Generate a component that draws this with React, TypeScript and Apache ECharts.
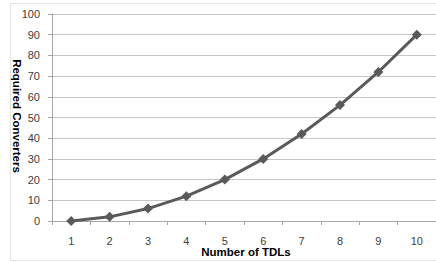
import React, { useEffect, useRef } from "react";
import * as echarts from "echarts";

const categories = ["1", "2", "3", "4", "5", "6", "7", "8", "9", "10"];
const converters = [0, 2, 6, 12, 20, 30, 42, 56, 72, 90];
const xTitle = "Number of TDLs";
const yTitle = "Required Converters";

export default function App() {
  const ref = useRef<HTMLDivElement>(null);
  useEffect(() => {
    if (!ref.current) return;
    const chart = echarts.init(ref.current, undefined, { renderer: "svg" });
    chart.setOption({
      animation: false,
      backgroundColor: "#ffffff",
      textStyle: { fontFamily: "Liberation Sans" },
      graphic: [
        {
          type: "rect",
          shape: { x: 10.5, y: 3.5, width: 440, height: 257 },
          style: { fill: "none", stroke: "#e4e4e4", lineWidth: 1 },
          z: -10,
        },
        {
          type: "text",
          x: 17,
          y: 116,
          rotation: -Math.PI / 2,
          style: {
            text: yTitle,
            font: "bold 11.5px 'Liberation Sans'",
            fill: "#000000",
            align: "center",
            verticalAlign: "middle",
          },
        },
        {
          type: "text",
          x: 246,
          y: 252,
          style: {
            text: xTitle,
            font: "bold 11.5px 'Liberation Sans'",
            fill: "#000000",
            align: "center",
            verticalAlign: "middle",
          },
        },
      ],
      grid: { left: 52, top: 14, width: 389, height: 207, containLabel: false },
      xAxis: {
        type: "category",
        data: categories,
        boundaryGap: true,
        axisLine: { show: true, lineStyle: { color: "#a6a6a6", width: 1 } },
        axisTick: { show: true, length: 4, alignWithLabel: false, lineStyle: { color: "#a6a6a6" } },
        axisLabel: { color: "#404040", fontSize: 11, margin: 14 },
        splitLine: { show: false },
      },
      yAxis: {
        type: "value",
        min: 0,
        max: 100,
        interval: 10,
        axisLine: { show: true, lineStyle: { color: "#a6a6a6", width: 1 } },
        axisTick: { show: true, length: 4, lineStyle: { color: "#a6a6a6" } },
        axisLabel: { color: "#404040", fontSize: 11, margin: 12 },
        splitLine: { show: true, lineStyle: { color: "#c6c6c6", width: 1 } },
      },
      series: [
        {
          type: "line",
          data: converters,
          symbol: "diamond",
          symbolSize: 10,
          lineStyle: { color: "#5a5a5a", width: 3 },
          itemStyle: { color: "#5a5a5a" },
        },
      ],
    });
    return () => chart.dispose();
  }, []);
  return (
    <div
      ref={ref}
      style={{ position: "fixed", left: 0, top: 0, width: 436, height: 262 }}
    />
  );
}
